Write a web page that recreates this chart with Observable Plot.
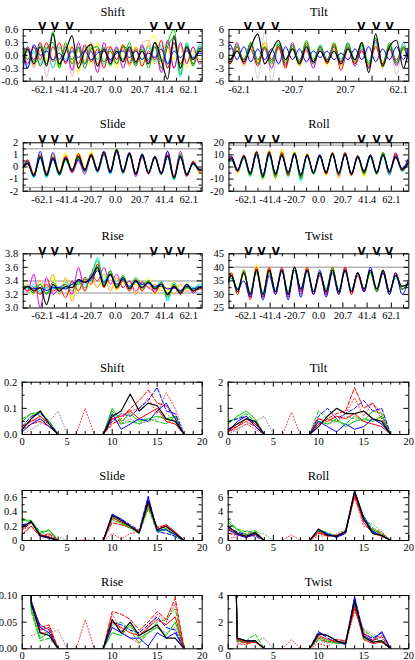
<!DOCTYPE html>
<html><head><meta charset="utf-8">
<script src="https://cdn.jsdelivr.net/npm/d3@7"></script>
<script src="https://cdn.jsdelivr.net/npm/@observablehq/plot@0.6"></script>
<style>
html,body{margin:0;padding:0;background:#fff;}
#root{position:relative;width:415px;height:660px;overflow:hidden;background:#fff;}
</style></head><body><div id="root"></div><script>
// ---------- shared x positions (top panels, Å) ----------
const xsTop = [-78, -74.5, -69.2, -63.8, -58.4, -53.0, -47.6, -42.2, -36.8, -31.4, -26.0, -20.6, -15.2, -9.8, -4.4, 1.0, 6.4, 11.8, 17.2, 22.6, 28.0, 33.4, 38.8, 44.2, 49.6, 55.0, 60.4, 65.8, 71.2, 77];
const xsBottom = [0,1,2,3,4,5,6,7,8,9,10,11,12,13,14,15,16,17,18];

const topLabelsAll = [-62.1, -41.4, -20.7, 0, 20.7, 41.4, 62.1];
const topLabelsTilt = [-62.1, -20.7, 20.7, 62.1];
const topMinor = [-72.45, -51.75, -31.05, -10.35, 10.35, 31.05, 51.75, 72.45];
const bottomLabels = [0, 5, 10, 15, 20];
const bottomMinor = [1,2,3,4,6,7,8,9,11,12,13,14,16,17,18,19];

// arrow (V) markers
const arrowsLeft = [-62, -51.5, -39, 32.5, 45, 55.5];
const arrowsTilt = [-55.3, -45.2, -34.0, 33.0, 44.7, 55.1];
const arrowsRight = [-59.9, -48.8, -36.6, 36.6, 49.4, 60.2];

// ---------- top: Shift ----------
const shiftTopColors = ["#e4b4c4", "#ffff00", "#ffa500", "#00f0f0", "#008b00", "#c000e0", "#ff0000", "#00c800", "#0000ff", "#000000"];
const shiftTop = [
  [0.0, 0.1, -0.3, 0.3, -0.5, 0.2, -0.2, 0.3, -0.5, 0.2, -0.1, 0.15, -0.2, 0.1, -0.1, 0.2, -0.15, 0.1, -0.2, 0.3, 0.35, -0.1, 0.2, -0.3, 0.2, -0.2, 0.3, -0.2, 0.1, 0],
  [0.1, 0.2, -0.1, 0.3, -0.1, 0.2, -0.3, 0.1, 0.2, -0.4, 0.2, -0.25, 0.3, -0.2, 0.1, -0.3, 0.25, -0.1, 0.2, -0.25, 0.3, 0.45, -0.2, 0.3, -0.1, 0.2, -0.3, 0.1, -0.2, 0],
  [-0.1, 0.2, -0.25, 0.1, 0.2, -0.3, 0.15, 0.25, -0.2, 0.1, -0.15, 0.3, -0.2, 0.1, 0.2, -0.2, 0.15, -0.25, 0.2, -0.1, 0.25, -0.2, 0.1, 0.2, -0.3, 0.25, -0.15, 0.2, -0.1, 0],
  [0.3, -0.3, 0.1, -0.2, 0.2, -0.3, 0.2, -0.1, 0.15, -0.2, 0.2, -0.15, 0.1, -0.2, 0.15, -0.1, 0.2, -0.15, 0.1, -0.1, 0.2, -0.15, 0.25, -0.2, 0.3, -0.5, 0.3, -0.1, 0.25, 0],
  [0.2, -0.1, 0.2, -0.25, 0.15, 0.3, -0.25, 0.2, -0.1, 0.2, -0.3, 0.15, 0.2, -0.15, 0.1, -0.2, 0.2, 0.1, -0.25, 0.2, -0.1, 0.3, -0.3, 0.2, 0.4, -0.3, 0.2, -0.25, 0.2, 0],
  [-0.3, 0.2, -0.1, 0.3, -0.2, 0.2, -0.1, 0.2, -0.35, 0.3, -0.2, 0.1, -0.4, 0.3, -0.15, 0.2, -0.3, 0.15, -0.2, 0.25, -0.15, 0.2, -0.4, 0.35, -0.3, 0.3, -0.2, 0.2, -0.2, 0],
  [0.1, -0.2, 0.2, -0.1, 0.3, -0.15, 0.3, -0.2, 0.2, -0.2, 0.25, -0.15, 0.15, -0.3, 0.2, -0.1, 0.25, -0.2, 0.15, -0.25, 0.1, -0.1, 0.35, -0.3, 0.3, -0.2, 0.15, -0.2, 0.1, 0],
  [-0.2, 0.1, -0.15, 0.25, -0.2, 0.55, -0.3, 0.3, -0.2, 0.15, -0.2, 0.2, -0.1, 0.2, -0.25, 0.15, -0.1, 0.3, -0.2, 0.15, -0.3, 0.2, -0.15, 0.3, 0.6, -0.45, 0.25, -0.2, 0.15, 0],
  [0.0, -0.3, 0.25, 0.0, 0.1, -0.1, 0.05, -0.15, 0.1, -0.05, 0.1, -0.1, 0.05, 0.1, -0.1, 0.05, 0.1, -0.05, 0.1, -0.1, 0.05, -0.05, 0.15, -0.2, 0.1, -0.05, 0.1, -0.05, 0.05, 0],
  [-0.1, 0.15, -0.2, 0.2, -0.25, 0.5, -0.2, 0.1, 0.45, -0.3, 0.1, 0.25, -0.25, 0.15, -0.2, 0.1, -0.15, 0.2, -0.15, 0.1, -0.2, 0.3, -0.1, -0.55, 0.45, -0.3, 0.2, -0.1, 0.1, 0]
];

// ---------- top: Tilt ----------
const tiltTopColors = ["#d0d0d0", "#ffff00", "#ffa500", "#00f0f0", "#008b00", "#c000e0", "#ff0000", "#00c800", "#0000ff", "#000000"];
const tiltTop = [
  [0, 1, -1, 2, -2, 3, -5.5, 5.5, -6, 2, -1.5, 1.5, -1, 1, -1.5, 1, -1, 1.5, -1.5, 1, -1, 2, -3, 3, -2, 2.5, -4.5, 2, -1, 0],
  [1, 2, -2, 2.5, -2, 3, -2, 3, -2.5, 2, -3, 1.5, -2, 2.5, -1.5, 2, -2.5, 3, -1.5, 2, -2, 1.5, -2, 2, -1.5, 2.5, -2, 1.5, -1, 0],
  [-1, 2, -1, 1.5, -2.5, 2, -1.5, 3, -1, 1.5, -2, 2, -2.5, 1, -2, 2.5, -1.5, 1.5, -2.5, 2, -1, 2.5, -2, 2.5, -3, 2, -1.5, 2.5, -1, 0],
  [0, 1, -1.5, 2, -1, 1, -2, 1.5, -1, 2.5, -1, 2, -1, 2, -1.5, 2.5, -1, 2, -1, 2.5, -1, 2, -1.5, 3, -2, 2, -1.5, 3, -2, 0],
  [0, 1.5, -2, 1, -1, 3, -2, 2, -1.5, 2.5, -2, 1.5, -1.5, 2.5, -2, 1.5, -1, 2, -1.5, 3, -2, 2.5, -3, 4, -2, 2.5, -2, 1.5, -1.5, 0],
  [-1, 2, -1.5, 3, -2, 2.5, -1, 1.5, -3, 2, -2.5, 3, -2, 1.5, -3, 2, -1, 2.5, -1.5, 2, -2.5, 1.5, -3, 3.5, -2, 1.5, -2.5, 2, -2, 0],
  [-1, 1, -2, 2, -1, 1.5, -2.5, 2, -1, 2, -3, 2.5, -1.5, 3, -1.5, 2, -2, 2.5, -3.5, 1.5, -2, 1, -2.5, 2, -2, 1.5, -1, 2, -1, 0],
  [0.5, 1.5, -1, 2.5, -1.5, 3, -1, 2, -2, 3, -1.5, 2.5, -2, 3.5, -1, 2, -1.5, 3, -2, 2.5, -1.5, 3, -2, 4, -2.5, 3, -1.5, 2, -1, 0],
  [1, -1, 2.5, -1, 2, -1.5, 1.5, -1, 1.5, -2, 2, -1, 1.5, -1.5, 1, -0.5, 1, -1, 0.5, -1, 1.5, -1, 2, -1.5, 1.5, -1, 2, -1, 2.5, 0],
  [-1, 1.5, -1, 1, -1.5, 2, 5, -2, 1, 3.5, -1, 1.5, -2, 2, -1.5, 1, -1.5, 1, -2, 1.5, -1, 3, -4, 5, -2.5, 2, 3.5, -3, 2, 0]
];

// ---------- top: Slide ----------
const slideTopColors = ["#ffff00", "#ffa500", "#00f0f0", "#008b00", "#c000e0", "#ff0000", "#00c800", "#0000ff", "#000000"];
const slideTop = [
  [-0.4, 0.6, -0.5, 1.1, -0.4, 1.0, -0.3, 1.2, -0.2, 1.2, 0.0, 1.3, -0.2, 1.1, -0.5, 1.3, -0.5, 1.2, -0.5, 1.0, -0.4, 0.9, -0.5, 1.0, -0.7, 0.9, -0.8, 0.5, -0.6, 0],
  [0.2, 0.5, -0.6, 1.0, -0.5, 0.9, -0.4, 1.0, -0.3, 1.1, -0.2, 1.1, -0.3, 1.2, -0.5, 1.3, -0.5, 1.1, -0.7, 1.0, -0.4, 0.9, -0.6, 1.1, -0.8, 1.0, -0.7, 0.4, -0.4, 0],
  [0, 0.3, -0.9, 0.7, -0.9, 0.6, -0.7, 0.5, -0.4, 0.8, -0.3, 1.0, -0.5, 1.0, -0.6, 1.3, -0.6, 1.0, -0.6, 0.9, -0.3, 0.7, -0.6, 0.8, -1.1, 0.9, -0.7, 0.2, -0.3, 0],
  [0, 0.4, -0.8, 0.9, -0.6, 0.8, -0.7, 0.7, -0.4, 0.7, -0.4, 0.9, -0.4, 1.1, -0.5, 1.3, -0.4, 1.1, -0.5, 0.9, -0.5, 0.8, -0.5, 0.9, -0.9, 1.0, -0.7, 0.3, -0.3, 0],
  [0, 0.2, -0.6, 0.8, -0.5, 0.6, -0.5, 0.7, -0.5, 0.5, -0.6, 0.9, -0.4, 1.0, -0.3, 1.2, -0.4, 1.0, -0.8, 0.8, -0.5, 0.8, -0.5, 1.3, -0.8, 1.3, -0.6, 0.3, -0.3, 0],
  [0, 0.6, -0.6, 1.0, -0.6, 0.8, -0.5, 0.9, -0.4, 1.1, -0.3, 1.1, -0.2, 1.3, -0.3, 1.5, -0.5, 1.2, -0.5, 1.0, -0.6, 0.9, -0.5, 1.0, -0.8, 1.0, -0.8, 0.5, -0.3, 0],
  [0, 0.4, -0.7, 0.9, -0.8, 0.7, -0.6, 0.6, -0.3, 0.8, -0.4, 1.0, -0.3, 1.1, -0.4, 1.5, -0.4, 1.0, -0.6, 0.9, -0.5, 0.8, -0.6, 0.9, -1.0, 1.1, -0.6, 0.3, -0.2, 0],
  [0, 0.5, -0.8, 1.3, -0.7, 1.2, -0.6, 0.8, -0.2, 0.6, -0.3, 0.9, -0.2, 1.3, -0.5, 1.4, -0.3, 1.2, -0.6, 1.1, -0.5, 0.9, -0.5, 1.3, -0.9, 0.9, -0.7, 0.4, -0.3, 0],
  [0, 0.3, -0.7, 0.8, -0.7, 0.7, -0.5, 0.7, -0.3, 0.9, -0.2, 1.0, -0.3, 1.2, -0.4, 1.4, -0.4, 1.1, -0.6, 1.0, -0.5, 0.8, -0.6, 0.9, -0.9, 0.8, -0.6, 0.3, -0.2, 0]
];

// ---------- top: Roll ----------
const rollTopColors = slideTopColors;
const rollTop = [
  [4, 7, -6, 9, -8, 12, -11, 14, -10, 15, -8, 13, -9, 11, -6, 10, -7, 12, -8, 11, -7, 9, -8, 10, -6, 12, -5, 10, -3, 5],
  [3, 7, -4, 9, -7, 13, -9, 13, -8, 13, -6, 12, -9, 11, -5, 10, -6, 12, -9, 12, -7, 10, -7, 10, -6, 11, -6, 10, -3, 5],
  [3, 6, -4, 7, -8, 10, -10, 9, -8, 10, -8, 11, -12, 9, -6, 8, -5, 10, -7, 10, -6, 8, -5, 8, -6, 9, -7, 9, -4, 4],
  [5, 8, -3, 8, -6, 11, -8, 11, -7, 11, -7, 11, -9, 10, -5, 9, -5, 11, -6, 11, -6, 9, -5, 10, -5, 12, -5, 10, -2, 5],
  [5, 8, -4, 8, -5, 12, -7, 12, -5, 11, -6, 10, -7, 9, -5, 10, -5, 11, -7, 11, -6, 9, -5, 9, -5, 11, -6, 12, -3, 6],
  [4, 8, -2, 10, -5, 13, -8, 13, -7, 12, -7, 12, -8, 10, -5, 10, -6, 12, -6, 12, -7, 9, -5, 10, -4, 11, -5, 11, -3, 5],
  [6, 6, -3, 8, -7, 11, -9, 11, -9, 11, -6, 12, -10, 10, -6, 9, -4, 11, -6, 10, -5, 8, -6, 9, -6, 12, -5, 9, -2, 3],
  [7, 9, -2, 9, -5, 10, -6, 10, -5, 9, -4, 10, -6, 9, -4, 10, -4, 10, -5, 10, -5, 9, -3, 10, -4, 10, -3, 9, -1, 8],
  [5, 7, -3, 9, -6, 12, -8, 12, -6, 10, -5, 11, -7, 10, -5, 9, -5, 11, -5, 11, -6, 8, -4, 9, -5, 10, -4, 8, -2, 4]
];

// ---------- top: Rise ----------
const riseTopColors = ["#ffa500", "#ffff00", "#40e0d0", "#008b00", "#00f0f0", "#e000e0", "#ff0000", "#00c800", "#0000ff", "#000000"];
const riseTop = [
  [3.3, 3.35, 3.25, 3.4, 3.3, 3.5, 3.2, 3.45, 3.1, 3.4, 3.25, 3.45, 3.3, 3.5, 3.25, 3.45, 3.3, 3.4, 3.2, 3.4, 3.3, 3.35, 3.25, 3.3, 3.2, 3.35, 3.25, 3.3, 3.28, 3.3],
  [3.4, 3.3, 3.2, 3.35, 3.3, 3.45, 3.25, 3.4, 3.15, 3.3, 3.25, 3.35, 3.45, 3.3, 3.4, 3.25, 3.38, 3.3, 3.35, 3.25, 3.45, 3.2, 3.3, 3.25, 3.4, 3.25, 3.3, 3.25, 3.35, 3.3],
  [3.3, 3.28, 3.35, 3.22, 3.3, 3.32, 3.25, 3.38, 3.3, 3.42, 3.35, 3.48, 3.62, 3.36, 3.52, 3.3, 3.44, 3.3, 3.4, 3.32, 3.38, 3.28, 3.36, 3.12, 3.34, 3.22, 3.34, 3.28, 3.32, 3.3],
  [3.28, 3.3, 3.22, 3.35, 3.2, 3.38, 3.28, 3.3, 3.35, 3.35, 3.42, 3.4, 3.58, 3.34, 3.5, 3.32, 3.42, 3.3, 3.38, 3.28, 3.4, 3.3, 3.32, 3.22, 3.3, 3.24, 3.3, 3.26, 3.3, 3.3],
  [3.35, 3.3, 3.32, 3.25, 3.3, 3.28, 3.32, 3.3, 3.38, 3.35, 3.45, 3.4, 3.75, 3.4, 3.55, 3.3, 3.45, 3.3, 3.42, 3.3, 3.4, 3.3, 3.4, 3.1, 3.38, 3.2, 3.35, 3.3, 3.35, 3.3],
  [3.3, 3.25, 3.5, 3.0, 3.45, 3.2, 3.3, 3.35, 3.2, 3.6, 3.25, 3.5, 3.4, 3.6, 3.35, 3.5, 3.3, 3.4, 3.25, 3.38, 3.3, 3.25, 3.35, 3.2, 3.3, 3.25, 3.35, 3.22, 3.3, 3.3],
  [3.3, 3.25, 3.3, 3.2, 3.35, 3.25, 3.3, 3.15, 3.4, 3.25, 3.45, 3.35, 3.65, 3.3, 3.55, 3.28, 3.4, 3.25, 3.42, 3.25, 3.4, 3.22, 3.38, 3.18, 3.35, 3.2, 3.32, 3.25, 3.28, 3.3],
  [3.32, 3.3, 3.28, 3.35, 3.22, 3.3, 3.28, 3.35, 3.25, 3.38, 3.3, 3.5, 3.7, 3.35, 3.55, 3.32, 3.48, 3.3, 3.45, 3.35, 3.4, 3.3, 3.38, 3.15, 3.35, 3.25, 3.3, 3.28, 3.3, 3.3],
  [3.3, 3.32, 3.28, 3.3, 3.26, 3.3, 3.3, 3.28, 3.35, 3.4, 3.38, 3.42, 3.55, 3.38, 3.48, 3.35, 3.42, 3.32, 3.4, 3.35, 3.36, 3.32, 3.35, 3.28, 3.3, 3.26, 3.32, 3.28, 3.32, 3.3],
  [3.28, 3.32, 3.25, 3.3, 3.05, 3.35, 3.25, 3.32, 3.3, 3.42, 3.38, 3.45, 3.6, 3.32, 3.5, 3.3, 3.45, 3.28, 3.4, 3.3, 3.38, 3.28, 3.35, 3.2, 3.32, 3.22, 3.35, 3.25, 3.3, 3.3]
];

// ---------- top: Twist ----------
const twistTopColors = slideTopColors;
const twistTop = [
  [36, 38, 32, 39, 30, 41, 31, 40, 31, 40, 31, 40, 32, 39, 31, 38, 31, 40, 31, 40, 31, 38, 32, 39, 32, 39, 31, 37, 33, 35],
  [35, 37, 31, 38, 30, 40, 30, 40, 31, 40, 30, 40, 31, 40, 30, 38, 30, 40, 30, 40, 31, 38, 31, 39, 31, 39, 30, 38, 32, 35],
  [35, 37, 32, 38, 31, 38, 31, 38, 32, 38, 31, 39, 32, 38, 31, 37, 31, 39, 32, 38, 32, 37, 32, 38, 32, 38, 31, 36, 33, 34],
  [34, 36, 32, 38, 30, 38, 30, 39, 31, 39, 30, 39, 31, 39, 31, 38, 31, 39, 31, 39, 31, 38, 32, 38, 31, 38, 31, 37, 32, 34],
  [34, 37, 31, 38, 29, 39, 29, 39, 31, 40, 30, 40, 30, 39, 30, 37, 30, 39, 31, 40, 30, 38, 31, 39, 31, 39, 31, 37, 32, 34],
  [33, 38, 30, 39, 28, 40, 29, 40, 30, 39, 29, 40, 31, 40, 30, 38, 30, 40, 30, 40, 30, 37, 31, 39, 31, 38, 30, 38, 32, 35],
  [35, 36, 31, 39, 30, 39, 30, 38, 31, 39, 31, 40, 32, 39, 31, 38, 32, 40, 31, 39, 31, 38, 32, 38, 31, 39, 30, 37, 32, 34],
  [33, 37, 32, 35, 29, 39, 28, 37, 30, 39, 28, 40, 29, 39, 30, 39, 29, 38, 30, 39, 31, 38, 31, 40, 32, 38, 30, 38, 30, 36],
  [34, 37, 31, 38, 30, 39, 30, 39, 31, 39, 30, 40, 32, 39, 31, 38, 31, 39, 31, 39, 31, 38, 32, 39, 32, 39, 31, 37, 33, 34]
];

// ---------- bottom series styles ----------
const bottomColors = ["#909090", "#ff3030", "#00c800", "#0000ff", "#ff0000", "#00c800", "#ff0000", "#0000ff", "#000000"];
const bottomDashes = ["1,2", "1,2", "4,2", "4,2", "4,2", null, null, null, null];

const shiftBottom = [
  [0, 0.02, 0.04, 0.05, 0.09, 0, 0, 0, 0, 0, 0.05, 0.04, 0.06, 0.04, 0.05, 0.06, 0.08, 0.05, 0],
  [0.03, 0.05, 0.06, 0.04, 0, 0, 0, 0.1, 0, 0, 0.06, 0.04, 0.09, 0.1, 0.14, 0.08, 0.16, 0.1, 0],
  [0.06, 0.08, 0.07, 0.04, 0, 0, 0, 0, 0, 0, 0.09, 0.04, 0.05, 0.04, 0.06, 0.05, 0.04, 0.07, 0],
  [0.03, 0.07, 0.08, 0.05, 0, 0, 0, 0, 0, 0, 0.05, 0.08, 0.07, 0.1, 0.13, 0.18, 0.09, 0.08, 0],
  [0.02, 0.04, 0.05, 0.03, 0, 0, 0, 0, 0, 0, 0.04, 0.06, 0.1, 0.13, 0.17, 0.12, 0.11, 0.06, 0],
  [0.05, 0.08, 0.085, 0.05, 0, 0, 0, 0, 0, 0, 0.1, 0.05, 0.08, 0.05, 0.06, 0.07, 0.06, 0.07, 0],
  [0.03, 0.05, 0.07, 0.04, 0, 0, 0, 0, 0, 0, 0.06, 0.07, 0.09, 0.06, 0.08, 0.1, 0.05, 0.04, 0],
  [0.01, 0.04, 0.06, 0.03, 0, 0, 0, 0, 0, 0, 0.08, 0.02, 0.04, 0.06, 0.05, 0.09, 0.12, 0.06, 0],
  [0.02, 0.06, 0.09, 0.04, 0, 0, 0, 0, 0, 0, 0.07, 0.09, 0.155, 0.09, 0.12, 0.11, 0.06, 0.05, 0]
];
const tiltBottom = [
  [0, 0.2, 0.4, 0.5, 0.7, 0, 0, 0, 0, 0, 0.6, 0.4, 0.5, 0.7, 0.6, 0.5, 0.6, 0.4, 0],
  [0.1, 0.2, 0.4, 0.2, 0, 0, 0, 0.85, 0, 0, 0.4, 0.6, 0.5, 0.8, 1.4, 0.7, 1.2, 0.8, 0],
  [0.5, 0.6, 0.8, 0.5, 0, 0, 0, 0, 0, 0, 0.9, 0.6, 0.5, 0.4, 0.7, 0.5, 0.9, 0.8, 0],
  [0.5, 0.6, 0.7, 0.4, 0, 0, 0, 0, 0, 0, 0.7, 1.0, 0.6, 0.8, 1.0, 1.3, 0.9, 1.0, 0],
  [0.2, 0.3, 0.5, 0.3, 0, 0, 0, 0, 0, 0, 0.4, 0.6, 0.8, 0.9, 1.8, 1.0, 1.2, 0.6, 0],
  [0.4, 0.7, 0.9, 0.6, 0, 0, 0, 0, 0, 0, 0.5, 0.4, 0.6, 0.3, 0.5, 0.6, 0.5, 0.7, 0],
  [0.1, 0.3, 0.6, 0.4, 0, 0, 0, 0, 0, 0, 0.6, 0.5, 0.7, 0.6, 0.8, 0.5, 0.4, 0.3, 0],
  [0.1, 0.5, 0.7, 0.3, 0, 0, 0, 0, 0, 0, 0.5, 0.3, 0.1, 0.4, 0.2, 0.3, 0.6, 0.4, 0],
  [0.2, 0.4, 0.6, 0.5, 0, 0, 0, 0, 0, 0, 0.3, 0.7, 1.0, 0.8, 0.8, 0.9, 0.6, 0.5, 0]
];
const slideBottom = [
  [0.15, 0.2, 0.1, 0.08, 0.05, 0, 0, 0, 0, 0, 0.28, 0.25, 0.18, 0.12, 0.48, 0.15, 0.15, 0.1, 0],
  [0.1, 0.2, 0.06, 0.08, 0, 0, 0, 0.01, 0, 0, 0.1, 0.02, 0.1, 0.12, 0.45, 0.2, 0.18, 0.1, 0],
  [0.3, 0.28, 0.12, 0.15, 0, 0, 0, 0, 0, 0, 0.3, 0.24, 0.17, 0.1, 0.45, 0.12, 0.15, 0.05, 0],
  [0.22, 0.25, 0.08, 0.05, 0, 0, 0, 0, 0, 0, 0.35, 0.3, 0.22, 0.14, 0.62, 0.12, 0.1, 0.06, 0],
  [0.08, 0.2, 0.05, 0.1, 0, 0, 0, 0, 0, 0, 0.25, 0.22, 0.18, 0.12, 0.5, 0.18, 0.22, 0.12, 0],
  [0.28, 0.27, 0.1, 0.14, 0, 0, 0, 0, 0, 0, 0.33, 0.25, 0.18, 0.12, 0.5, 0.13, 0.17, 0.08, 0],
  [0.15, 0.25, 0.08, 0.05, 0, 0, 0, 0, 0, 0, 0.32, 0.26, 0.2, 0.13, 0.52, 0.15, 0.22, 0.12, 0],
  [0.2, 0.26, 0.06, 0.03, 0, 0, 0, 0, 0, 0, 0.37, 0.3, 0.2, 0.1, 0.6, 0.14, 0.15, 0.08, 0],
  [0.18, 0.27, 0.07, 0.04, 0, 0, 0, 0, 0, 0, 0.35, 0.28, 0.2, 0.11, 0.55, 0.15, 0.2, 0.1, 0]
];
const rollBottom = [
  [1.0, 0.6, 1.0, 1.2, 0.9, 0, 0, 0, 0, 0, 1.0, 0.6, 0.9, 1.5, 6.3, 2.8, 2.3, 1.2, 0],
  [0.3, 0.5, 1.4, 0.8, 0, 0, 0, 0.8, 0, 0, 0.6, 0.7, 0.8, 1.3, 6.0, 2.0, 1.6, 1.2, 0],
  [2.8, 1.6, 1.2, 1.4, 0, 0, 0, 0, 0, 0, 1.5, 1.1, 0.6, 1.3, 7.0, 3.3, 1.8, 1.0, 0],
  [1.8, 1.2, 0.8, 0.6, 0, 0, 0, 0, 0, 0, 1.3, 1.0, 0.4, 1.0, 6.7, 3.4, 1.3, 0.6, 0],
  [1.0, 0.8, 0.6, 1.0, 0, 0, 0, 0, 0, 0, 1.0, 0.8, 0.6, 1.2, 6.2, 2.8, 1.5, 0.9, 0],
  [2.5, 1.5, 0.8, 1.2, 0, 0, 0, 0, 0, 0, 1.4, 0.8, 0.5, 1.2, 6.8, 3.0, 1.5, 0.8, 0],
  [1.6, 1.0, 0.5, 0.8, 0, 0, 0, 0, 0, 0, 1.2, 0.6, 0.7, 1.1, 6.5, 2.5, 1.0, 0.6, 0],
  [1.5, 0.8, 0.4, 0.9, 0, 0, 0, 0, 0, 0, 1.6, 0.9, 0.5, 1.0, 6.9, 3.2, 1.2, 0.7, 0],
  [2.0, 1.0, 0.6, 1.1, 0, 0, 0, 0, 0, 0, 1.6, 0.7, 0.6, 1.3, 6.9, 3.0, 1.0, 0.7, 0]
];
const riseBottom = [
  [null, 0.025, 0.03, 0.03, 0.035, 0, 0, 0, 0, 0, 0.04, 0.03, 0.04, 0.03, 0.035, 0.04, 0.03, 0.04, 0],
  [3.3, 0.08, 0.03, 0.03, 0, 0, 0, 0.055, 0, 0, 0.065, 0.035, 0.02, 0.01, 0.04, 0.065, 0.05, 0.085, 0],
  [3.3, 0.07, 0.015, 0.02, 0, 0, 0, 0, 0, 0, 0.045, 0.05, 0.035, 0.01, 0.03, 0.05, 0.055, 0.075, 0],
  [3.3, 0.08, 0.045, 0.035, 0, 0, 0, 0, 0, 0, 0.05, 0.045, 0.035, 0.03, 0.045, 0.06, 0.04, 0.035, 0],
  [3.3, 0.09, 0.04, 0.045, 0, 0, 0, 0, 0, 0, 0.07, 0.065, 0.055, 0.035, 0.05, 0.07, 0.055, 0.095, 0],
  [3.3, 0.075, 0.02, 0.03, 0, 0, 0, 0, 0, 0, 0.03, 0.025, 0.045, 0.02, 0.03, 0.04, 0.025, 0.05, 0],
  [3.3, 0.085, 0.035, 0.04, 0, 0, 0, 0, 0, 0, 0.05, 0.04, 0.03, 0.025, 0.04, 0.055, 0.045, 0.06, 0],
  [3.3, 0.09, 0.04, 0.03, 0, 0, 0, 0, 0, 0, 0.04, 0.03, 0.02, 0.02, 0.005, 0.03, 0.02, 0.03, 0],
  [3.3, 0.085, 0.03, 0.025, 0, 0, 0, 0, 0, 0, 0.055, 0.03, 0.05, 0.025, 0.035, 0.045, 0.02, 0.02, 0]
];
const twistBottom = [
  [null, 0.3, 0.5, 0.6, 0.8, 0, 0, 0, 0, 0, 0.6, 0.4, 0.7, 0.6, 3.0, 1.5, 1.1, 0.8, 0],
  [35, 0.4, 0.3, 0.6, 0, 0, 0, 0.7, 0, 0, 0.4, 0.2, 0.6, 0.3, 2.8, 1.3, 0.7, 1.0, 0],
  [35, 0.5, 0.6, 1.1, 0, 0, 0, 0, 0, 0, 0.7, 0.5, 0.5, 0.3, 3.3, 1.4, 0.9, 0.5, 0],
  [35, 0.7, 0.5, 0.6, 0, 0, 0, 0, 0, 0, 1.3, 0.8, 0.5, 0.5, 3.9, 1.1, 0.8, 1.2, 0],
  [35, 0.6, 0.4, 0.5, 0, 0, 0, 0, 0, 0, 0.8, 0.5, 0.7, 0.6, 3.0, 1.2, 0.6, 0.9, 0],
  [35, 0.6, 0.5, 0.6, 0, 0, 0, 0, 0, 0, 0.9, 0.6, 0.4, 0.4, 3.4, 0.8, 0.5, 0.6, 0],
  [35, 0.7, 0.5, 0.5, 0, 0, 0, 0, 0, 0, 1.0, 0.7, 0.5, 0.5, 3.2, 0.7, 0.4, 0.5, 0],
  [35, 0.8, 0.6, 0.6, 0, 0, 0, 0, 0, 0, 1.2, 1.0, 0.6, 0.3, 3.8, 1.0, 0.6, 1.3, 0],
  [35, 0.8, 0.6, 0.6, 0, 0, 0, 0, 0, 0, 1.1, 1.0, 0.6, 0.4, 3.6, 0.9, 0.5, 0.6, 0]
];

// ---------- rendering ----------
const root = document.getElementById("root");
const serif = "'Liberation Serif', 'Times New Roman', serif";

function panel(c) {
  const mL = c.frame[0] - c.left, mR = c.left + c.width - c.frame[1];
  const mT = c.frame[2] - c.top, mB = c.top + c.height - c.frame[3];
  const fw = c.frame[1] - c.frame[0], fh = c.frame[3] - c.frame[2];
  const inX = v => v >= c.xDomain[0] && v <= c.xDomain[1];
  const marks = [];
  if (c.refs) marks.push(Plot.ruleY(c.refs, {stroke: "#b4b4b4", strokeWidth: 1.5}));
  c.series.forEach((vals, i) => {
    const data = c.xs.map((x, j) => ({x, y: vals[j]}));
    const col = c.colors[i];
    marks.push(Plot.line(data, {
      x: "x", y: "y", stroke: col, strokeWidth: col === "#000000" ? 1.2 : 1,
      strokeDasharray: c.dashes ? c.dashes[i] : null, curve: c.curve, clip: true
    }));
  });
  const tm = (c.xTickMarks || c.xLabels).filter(inX), tn = c.xMinor.filter(inX);
  marks.push(
    Plot.ruleX(tm, {insetTop: fh - 5}), Plot.ruleX(tm, {insetBottom: fh - 5}),
    Plot.ruleX(tn, {insetTop: fh - 3}), Plot.ruleX(tn, {insetBottom: fh - 3}),
    Plot.ruleY(c.yLabels, {insetRight: fw - 5}), Plot.ruleY(c.yLabels, {insetLeft: fw - 5}),
    Plot.ruleY(c.yMinor, {insetRight: fw - 3}), Plot.ruleY(c.yMinor, {insetLeft: fw - 3}),
    Plot.frame({stroke: "black"})
  );
  marks.push(Plot.text([c.title], {frameAnchor: "top", dy: c.titleDy, text: d => d, fontSize: 12.5, fontWeight: "normal", fontFamily: serif, fill: "black"}));
  if (c.arrows) marks.push(Plot.text(c.arrows, {x: d => d, frameAnchor: "top", dy: c.arrowDy, text: () => "V", fontWeight: "bold", fontSize: 10.5, fontFamily: "DejaVu Sans", fill: "black"}));
  const svg = Plot.plot({
    width: c.width, height: c.height,
    marginLeft: mL, marginRight: mR, marginTop: mT, marginBottom: mB,
    style: {fontFamily: serif, fontSize: "10.5px", background: "transparent", overflow: "visible", color: "black"},
    x: {domain: c.xDomain, ticks: c.xLabels, tickFormat: c.xFmt, tickSize: 0, tickPadding: c.xPad, label: null},
    y: {domain: c.yDomain, ticks: c.yLabels, tickFormat: c.yFmt, tickSize: 0, tickPadding: 5, label: null},
    marks
  });
  svg.style.position = "absolute";
  svg.style.left = c.left + "px";
  svg.style.top = c.top + "px";
  root.appendChild(svg);
}

const f1 = d => d.toFixed(1);
const f0 = d => String(d);
const f2 = d => d.toFixed(2);
const LEFT = {left: 0, width: 205, fx: [22.7, 201.7], xDomain: [-78.2, 73.5]};
const RIGHT = {left: 205, width: 210, fx: [228.5, 408.3], xDomain: [-76.5, 77]};
const BL = {left: 0, width: 205, fx: [21.7, 201.7]};
const BR = {left: 205, width: 210, fx: [227.7, 408.3]};

function topPanel(side, row, o) {
  panel(Object.assign({
    left: side.left, width: side.width, top: row.top, height: row.height,
    frame: [side.fx[0], side.fx[1], row.fy[0], row.fy[1]],
    xDomain: side.xDomain, xs: xsTop, xLabels: topLabelsAll, xMinor: topMinor, xFmt: f1, xPad: 4,
    curve: "monotone-x", titleDy: row.titleDy, arrowDy: row.arrowDy
  }, o));
}
function bottomPanel(side, row, o) {
  panel(Object.assign({
    left: side.left, width: side.width, top: row.top, height: row.height,
    frame: [side.fx[0], side.fx[1], row.fy[0], row.fy[1]],
    xDomain: [0, 20], xs: xsBottom, xLabels: bottomLabels, xMinor: bottomMinor, xFmt: f0, xPad: 3,
    curve: "linear", titleDy: row.titleDy, colors: bottomColors, dashes: bottomDashes
  }, o));
}

const R1 = {top: 0, height: 100, fy: [29, 80.7], titleDy: -22.5, arrowDy: -7};
const R2 = {top: 108, height: 100, fy: [142.3, 190.7], titleDy: -23.3, arrowDy: -7.3};
const R3 = {top: 218, height: 112, fy: [253.3, 307.5], titleDy: -22.3, arrowDy: -6.5};
const R4 = {top: 340, height: 115, fy: [381.7, 434], titleDy: -18.7};
const R5 = {top: 455, height: 100, fy: [490, 540], titleDy: -19};
const R6 = {top: 560, height: 100, fy: [595, 648.3], titleDy: -18};

topPanel(LEFT, R1, {title: "Shift", series: shiftTop, colors: shiftTopColors, arrows: arrowsLeft,
  yDomain: [-0.6, 0.6], yLabels: [-0.6, -0.3, 0, 0.3, 0.6], yMinor: [-0.45, -0.15, 0.15, 0.45], yFmt: f1});
topPanel(Object.assign({}, RIGHT, {xDomain: [-70, 70]}), R1, {title: "Tilt", series: tiltTop, colors: tiltTopColors, arrows: arrowsTilt,
  xLabels: topLabelsTilt, xTickMarks: topLabelsAll,
  yDomain: [-6, 6], yLabels: [-6, -3, 0, 3, 6], yMinor: [-4.5, -1.5, 1.5, 4.5], yFmt: f0});
topPanel(LEFT, R2, {title: "Slide", series: slideTop, colors: slideTopColors, arrows: arrowsLeft, refs: [1.5, -1.7],
  yDomain: [-2, 2], yLabels: [-2, -1, 0, 1, 2], yMinor: [-1.5, -0.5, 0.5, 1.5], yFmt: f0});
topPanel(RIGHT, R2, {title: "Roll", series: rollTop, colors: rollTopColors, arrows: arrowsRight, refs: [18],
  yDomain: [-20, 20], yLabels: [-20, -10, 0, 10, 20], yMinor: [-15, -5, 5, 15], yFmt: f0});
topPanel(LEFT, R3, {title: "Rise", series: riseTop, colors: riseTopColors, arrows: arrowsLeft, refs: [3.4, 3.22],
  yDomain: [3.0, 3.8], yLabels: [3.0, 3.2, 3.4, 3.6, 3.8], yMinor: [3.1, 3.3, 3.5, 3.7], yFmt: f1});
topPanel(RIGHT, R3, {title: "Twist", series: twistTop, colors: twistTopColors, arrows: arrowsRight, refs: [40],
  yDomain: [25, 45], yLabels: [25, 30, 35, 40, 45], yMinor: [27.5, 32.5, 37.5, 42.5], yFmt: f0});

bottomPanel(BL, R4, {title: "Shift", series: shiftBottom,
  yDomain: [0, 0.2], yLabels: [0, 0.1, 0.2], yMinor: [0.05, 0.15], yFmt: f1});
bottomPanel(BR, R4, {title: "Tilt", series: tiltBottom,
  yDomain: [0, 2], yLabels: [0, 1, 2], yMinor: [0.5, 1.5], yFmt: f0});
bottomPanel(BL, R5, {title: "Slide", series: slideBottom,
  yDomain: [0, 0.7], yLabels: [0, 0.2, 0.4, 0.6], yMinor: [0.1, 0.3, 0.5], yFmt: f0});
bottomPanel(BR, R5, {title: "Roll", series: rollBottom,
  yDomain: [0, 7], yLabels: [0, 2, 4, 6], yMinor: [1, 3, 5], yFmt: f0});
bottomPanel(BL, R6, {title: "Rise", series: riseBottom,
  yDomain: [0, 0.1], yLabels: [0, 0.05, 0.1], yMinor: [0.025, 0.075], yFmt: f2});
bottomPanel(BR, R6, {title: "Twist", series: twistBottom,
  yDomain: [0, 4], yLabels: [0, 2, 4], yMinor: [1, 3], yFmt: f0});
</script></body></html>
